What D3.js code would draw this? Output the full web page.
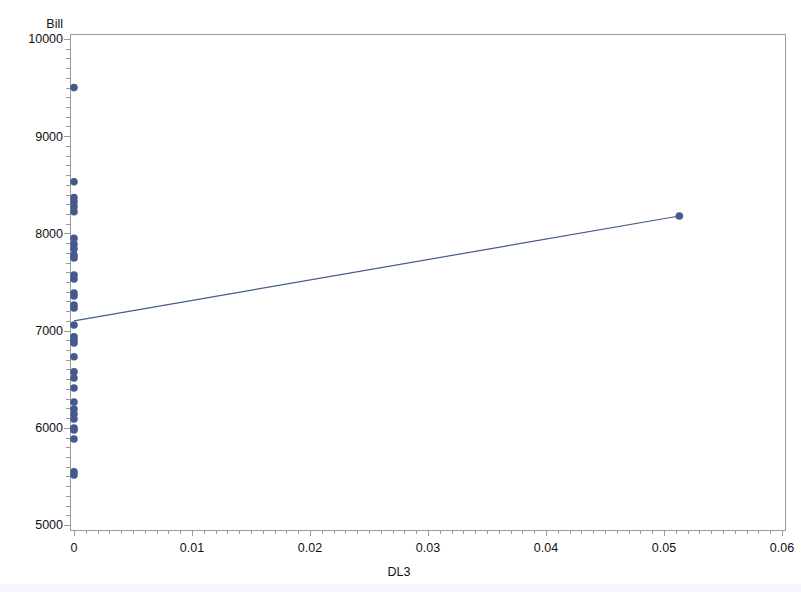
<!DOCTYPE html>
<html>
<head>
<meta charset="utf-8">
<script src="https://cdn.jsdelivr.net/npm/d3@7"></script>
<style>
  body { margin: 0; background: #fff; }
  text { font-family: Arial, "Liberation Sans", sans-serif; fill: #111; }
</style>
</head>
<body>
<div id="chart"></div>
<script>
const WIDTH = 801
const HEIGHT = 592

// observations: DL3 is 0 for all but one
const billAtZero = [9500, 8532, 8369, 8326, 8275, 8223, 7950, 7891, 7843, 7778, 7747, 7572, 7531,
  7387, 7356, 7263, 7233, 7058, 6937, 6903, 6872, 6731, 6577, 6512, 6409, 6265, 6193, 6142,
  6091, 5998, 5977, 5885, 5548, 5514]
const otherDL3 = [0.0513]
const otherBill = [8179]

// fitted line end points
const fitX = [0, 0.0513]
const fitY = [7100, 8179]

const xTicks = [0, 0.01, 0.02, 0.03, 0.04, 0.05, 0.06]
const yTicks = [5000, 6000, 7000, 8000, 9000, 10000]

const COLOR = '#445a8f'
const AXIS = '#9a9a9a'

const frame = { left: 70, right: 785, top: 34, bottom: 530 }

const points = billAtZero.map(v => ({ x: 0, y: v }))
  .concat(otherDL3.map((x, i) => ({ x: x, y: otherBill[i] })))

const x = d3.scaleLinear().domain([0, 0.06]).range([74, 782])
const y = d3.scaleLinear().domain([5000, 10000]).range([525, 39])

const svg = d3.select('#chart').append('svg')
  .attr('width', WIDTH)
  .attr('height', HEIGHT)

svg.append('rect')
  .attr('x', 0).attr('y', 584)
  .attr('width', WIDTH).attr('height', HEIGHT - 584)
  .attr('fill', '#f5f5fc')

svg.append('rect')
  .attr('x', frame.left + 0.5).attr('y', frame.top + 0.5)
  .attr('width', frame.right - frame.left).attr('height', frame.bottom - frame.top)
  .attr('fill', 'none')
  .attr('stroke', AXIS)

// minor ticks
const xMinor = d3.range(0, 61).map(i => i / 1000)
const yMinor = d3.range(50, 101).map(i => i * 100)

svg.append('g').selectAll('line')
  .data(xMinor)
  .enter().append('line')
  .attr('x1', d => Math.round(x(d)) + 0.5)
  .attr('x2', d => Math.round(x(d)) + 0.5)
  .attr('y1', frame.bottom)
  .attr('y2', d => frame.bottom + (Math.round(d * 1000) % 10 === 0 ? 6 : 4))
  .attr('stroke', AXIS)

svg.append('g').selectAll('line')
  .data(yMinor)
  .enter().append('line')
  .attr('y1', d => Math.round(y(d)) + 0.5)
  .attr('y2', d => Math.round(y(d)) + 0.5)
  .attr('x1', frame.left)
  .attr('x2', d => frame.left - (d % 1000 === 0 ? 6 : 4))
  .attr('stroke', AXIS)

svg.append('g').selectAll('text')
  .data(xTicks)
  .enter().append('text')
  .attr('x', d => x(d))
  .attr('y', 552)
  .attr('text-anchor', 'middle')
  .attr('font-size', 12.5)
  .text(d => d === 0 ? '0' : d3.format('.2f')(d))

svg.append('g').selectAll('text')
  .data(yTicks)
  .enter().append('text')
  .attr('x', 63)
  .attr('y', d => y(d))
  .attr('dy', '0.35em')
  .attr('text-anchor', 'end')
  .attr('font-size', 12.5)
  .text(d => d)

svg.append('text')
  .attr('x', 63).attr('y', 28)
  .attr('text-anchor', 'end')
  .attr('font-size', 12.5)
  .text('Bill')

svg.append('text')
  .attr('x', 399).attr('y', 576)
  .attr('text-anchor', 'middle')
  .attr('font-size', 12.5)
  .text('DL3')

const line = d3.line()
  .x(d => x(d[0]))
  .y(d => y(d[1]))

svg.append('path')
  .datum(fitX.map((v, i) => [v, fitY[i]]))
  .attr('d', line)
  .attr('fill', 'none')
  .attr('stroke', COLOR)
  .attr('stroke-width', 1.2)

svg.append('g').selectAll('circle')
  .data(points)
  .enter().append('circle')
  .attr('cx', d => x(d.x))
  .attr('cy', d => y(d.y))
  .attr('r', 3.8)
  .attr('fill', COLOR)
</script>
</body>
</html>
